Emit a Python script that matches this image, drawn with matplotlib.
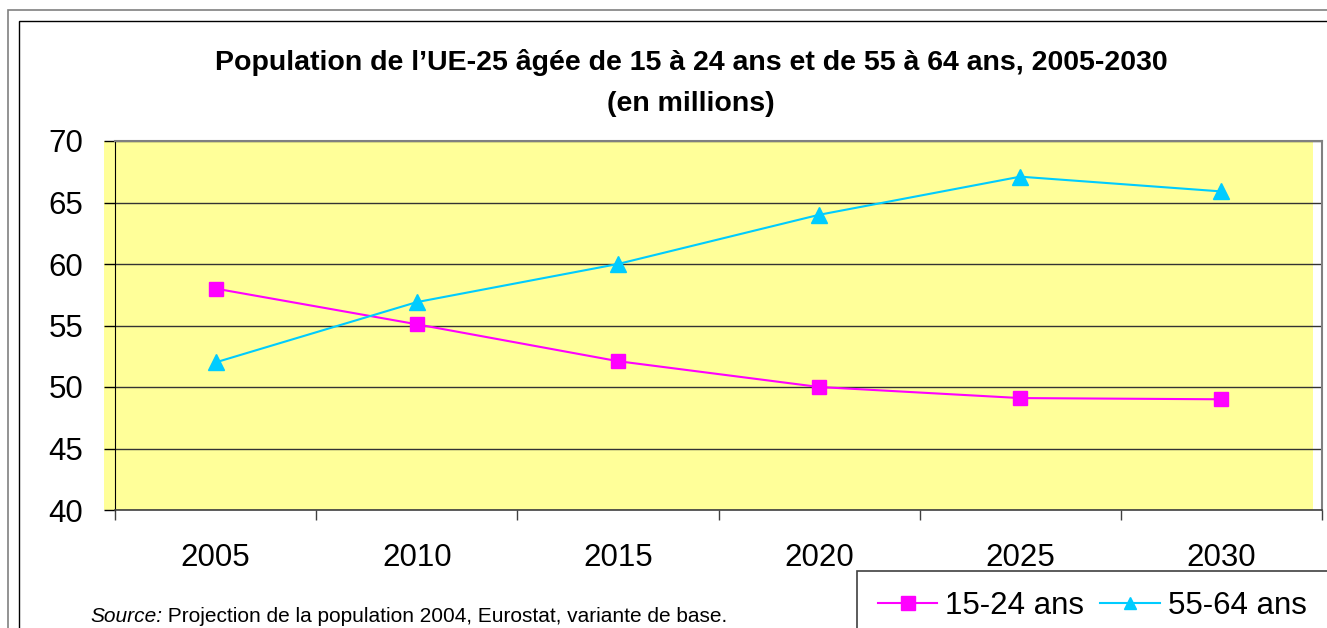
import matplotlib
matplotlib.use('Agg')
import matplotlib.pyplot as plt
from matplotlib.patches import Rectangle
from matplotlib.lines import Line2D

plt.rcParams['font.family'] = ['Liberation Sans', 'DejaVu Sans']

years = ['2005', '2010', '2015', '2020', '2025', '2030']
jeunes = [58.0, 55.1, 52.1, 50.0, 49.1, 49.0]      # 15-24 ans
seniors = [52.0, 56.9, 60.0, 64.0, 67.1, 65.9]     # 55-64 ans

W, H = 1327, 628
fig = plt.figure(figsize=(W / 100, H / 100), dpi=100)

def fx(px):
    return px / W

def fy(py):
    return 1 - py / H

# cadres exterieurs
fig.patches.append(Rectangle((fx(8), fy(700)), fx(1400), fy(10) - fy(700),
                             transform=fig.transFigure, fill=False,
                             edgecolor='#808080', linewidth=1.2, zorder=0))
fig.patches.append(Rectangle((fx(19), fy(700)), fx(1400), fy(21) - fy(700),
                             transform=fig.transFigure, fill=False,
                             edgecolor='black', linewidth=1.0, zorder=0))
# fond jaune (legerement decale a gauche)
fig.patches.append(Rectangle((fx(104), fy(510)), fx(1313) - fx(104), fy(141) - fy(510),
                             transform=fig.transFigure, facecolor='#FFFF99',
                             edgecolor='none', zorder=0.5))

ax = fig.add_axes([fx(115), fy(510), fx(1322) - fx(115), fy(141) - fy(510)])
ax.set_zorder(1)
ax.patch.set_alpha(0)

x = list(range(len(years)))
ax.plot(x, jeunes, color='#FF00FF', linewidth=1.5, marker='s', markersize=9.5,
        markeredgecolor='#FF00FF', zorder=3)
ax.plot(x, seniors, color='#00CCFF', linewidth=1.5, marker='^', markersize=11,
        markeredgecolor='#00CCFF', zorder=3)

ax.set_xlim(-0.5, 5.5)
ax.set_ylim(40, 70)
ax.set_yticks(range(40, 71, 5))
ax.yaxis.grid(True, color='#333333', linewidth=1.0)
ax.set_axisbelow(True)

ax.set_xticks([i + 0.5 for i in range(-1, 6)])
ax.set_xticklabels([])
ax.set_xticks(x, minor=True)
ax.set_xticklabels(years, minor=True, fontsize=22.5)
ax.tick_params(axis='x', which='minor', length=0, pad=24)
ax.tick_params(axis='x', which='major', length=7, width=1, color='#404040')
ax.tick_params(axis='y', labelsize=22.5, length=8, width=1, pad=15)

for s in ['top', 'right']:
    ax.spines[s].set_color('#808080')
    ax.spines[s].set_linewidth(1.5)
ax.spines['left'].set_color('black')
ax.spines['bottom'].set_color('#404040')
ax.spines['bottom'].set_linewidth(1.2)

fig.text(fx(691), fy(62), 'Population de l\u2019UE-25 \u00e2g\u00e9e de 15 \u00e0 24 ans et de 55 \u00e0 64 ans, 2005-2030',
         ha='center', va='center', fontsize=20.5, fontweight='bold')
fig.text(fx(691), fy(104), '(en millions)', ha='center', va='center',
         fontsize=20.5, fontweight='bold')

src = fig.text(fx(90), fy(617), 'Source:', ha='left', va='center', fontsize=15, style='italic')
fig.text(0, 0, '', fontsize=1)
plt.annotate(' Projection de la population 2004, Eurostat, variante de base.',
             xy=(1, 0), xycoords=src, va='bottom', ha='left', fontsize=15)

# boite de legende coupee par le bord
fig.patches.append(Rectangle((fx(857), fy(700)), fx(600), fy(571) - fy(700),
                             transform=fig.transFigure, facecolor='white',
                             edgecolor='#404040', linewidth=1.2, zorder=5))
handles = [Line2D([], [], color='#FF00FF', marker='s', markersize=9.5, linewidth=1.5),
           Line2D([], [], color='#00CCFF', marker='^', markersize=9, linewidth=1.5)]
leg = fig.legend(handles, ['15-24 ans', '55-64 ans'], loc='center left',
                 bbox_to_anchor=(fx(878), fy(606)), ncol=2, frameon=False,
                 fontsize=22.5, handlelength=1.9, handletextpad=0.26,
                 columnspacing=0.5, borderaxespad=0, borderpad=0)
leg.set_zorder(6)

fig.savefig('out.png', dpi=100)
